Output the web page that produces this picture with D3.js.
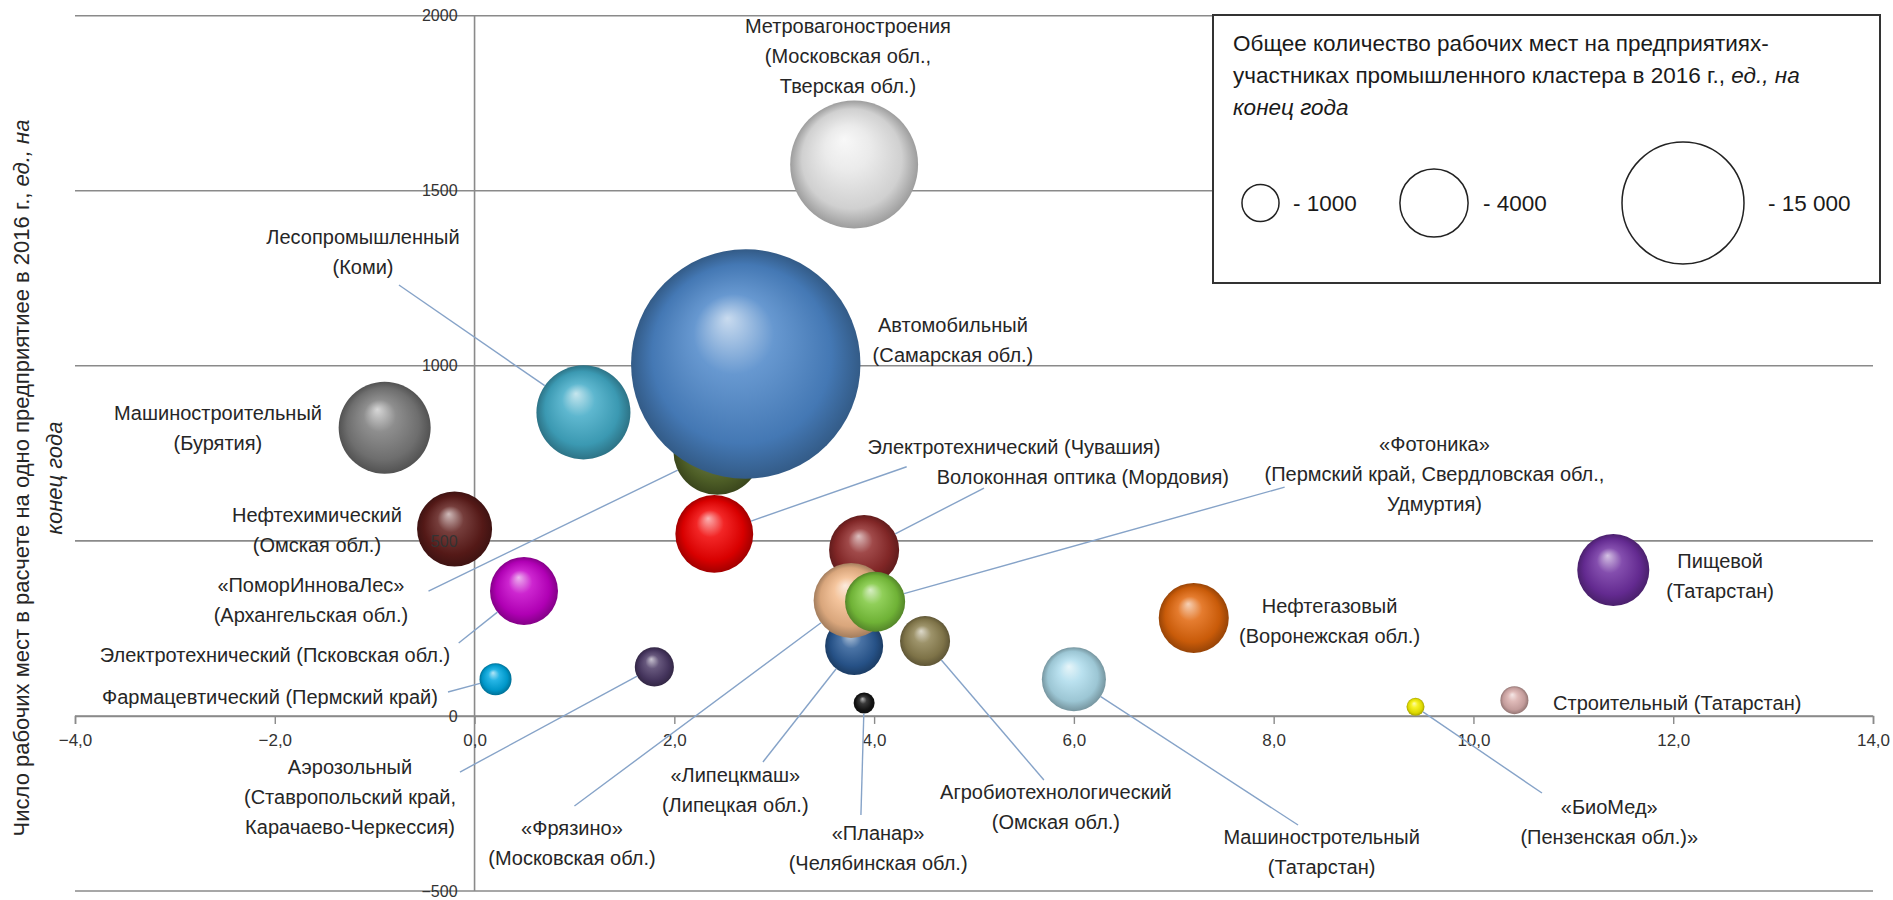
<!DOCTYPE html>
<html><head><meta charset="utf-8">
<script src="https://cdn.jsdelivr.net/npm/d3@7"></script>
<style>
html,body{margin:0;padding:0;background:#fff;}
svg{display:block;font-family:"Liberation Sans",Arial,sans-serif;}
</style></head><body>
<svg id="chart" width="1893" height="900"></svg>
<script>
// ---------- DATA ----------
const clusterLabels = [
  ["Метровагоностроения","(Московская обл.,","Тверская обл.)"],
  ["Машиностроительный","(Бурятия)"],
  ["Лесопромышленный","(Коми)"],
  ["«ПоморИнноваЛес»","(Архангельская обл.)"],
  ["Автомобильный","(Самарская обл.)"],
  ["Нефтехимический","(Омская обл.)"],
  ["Электротехнический (Чувашия)"],
  ["Волоконная оптика (Мордовия)"],
  ["«Липецкмаш»","(Липецкая обл.)"],
  ["«Фрязино»","(Московская обл.)"],
  ["«Фотоника»","(Пермский край, Свердловская обл.,","Удмуртия)"],
  ["Агробиотехнологический","(Омская обл.)"],
  ["«Планар»","(Челябинская обл.)"],
  ["Машиностротельный","(Татарстан)"],
  ["Нефтегазовый","(Воронежская обл.)"],
  ["Пищевой","(Татарстан)"],
  ["«БиоМед»","(Пензенская обл.)»"],
  ["Строительный (Татарстан)"],
  ["Электротехнический (Псковская обл.)"],
  ["Фармацевтический (Пермский край)"],
  ["Аэрозольный","(Ставропольский край,","Карачаево-Черкессия)"]
];
// X: horizontal axis value
const xValues = [3.80, -0.90, 1.09, 2.43, 2.715, -0.20, 2.40, 3.90, 3.80, 3.77, 4.01, 4.51, 3.90, 6.00, 7.20, 11.40, 9.42, 10.41, 0.495, 0.21, 1.80];
// Y: jobs per enterprise, 2016
const yValues = [1575, 823, 867, 757, 1005, 534, 520, 474, 200, 330, 326, 214, 37, 105, 280, 417, 26, 45, 357, 105, 140];
// Bubble size: total jobs in cluster enterprises, 2016
const jobsTotal = [16700, 7900, 8300, 7100, 63000, 4970, 5400, 4250, 2770, 4970, 3000, 1980, 275, 3470, 4250, 4530, 194, 530, 3970, 717, 1130];

const xTicks = [-4, -2, 0, 2, 4, 6, 8, 10, 12, 14];
const yTicks = [-500, 0, 500, 1000, 1500, 2000];
const legendSizes = [1000, 4000, 15000];
const legendSizeLabels = ["- 1000", "- 4000", "- 15 000"];

// ---------- STYLE / LAYOUT (not data) ----------
const palette = ["#e8e8e8","#7a7a7a","#42aac6","#56682a","#4c86c8","#5e1c1a","#f00000","#8f2a2a","#2a5a95","#f2b98a","#7cc63c","#8c8050","#151515","#aedcec","#e0650a","#6e2fa0","#f5f000","#d9aeac","#c400c8","#00a8e0","#4c3a66"];
// label centre (data units) and leader start (data units)
const labelLayout = [
  {x:3.738,y:1970},{x:-2.569,y:865},{x:-1.117,y:1368,lx:-0.757,ly:1230.7},
  {x:-1.638,y:374,lx:-0.461,ly:356.7},{x:4.789,y:1116},{x:-1.578,y:574},
  {x:5.40,y:769,lx:4.326,ly:711.8},{x:6.09,y:682,lx:5.10,ly:651},
  {x:2.61,y:-169,lx:2.887,ly:-131.5},{x:0.975,y:-320,lx:1.0,ly:-257.2},
  {x:9.61,y:777,lx:8.11,ly:653.6},{x:5.82,y:-217,lx:5.70,ly:-183},
  {x:4.04,y:-334,lx:3.868,ly:-283},{x:8.48,y:-345,lx:8.244,ly:-311.5},
  {x:8.56,y:314},{x:12.47,y:442},{x:11.36,y:-259,lx:10.686,ly:-220.2},
  {x:12.04,y:37},{x:-1.998,y:174,lx:-0.159,ly:208.2},{x:-2.048,y:55,lx:-0.266,ly:68.3},
  {x:-1.247,y:-146,lx:-0.146,ly:-160.2}
];

const svg = d3.select("#chart");
const x = d3.scaleLinear().domain([-4, 14]).range([75, 1873]);
const y = d3.scaleLinear().domain([-500, 2000]).range([891, 15.7]);
const r = d3.scalePow().exponent(0.44).domain([0, 15000]).range([0, 61]);

const data = xValues.map((v, i) => ({i, x: v, y: yValues[i], s: jobsTotal[i], lines: clusterLabels[i], color: palette[i], lay: labelLayout[i]}));

// gradients
const defs = svg.append("defs");
data.forEach(d => {
  const c = d3.color(d.color);
  const g = defs.append("radialGradient").attr("id", "g" + d.i)
    .attr("cx", "50%").attr("cy", "50%").attr("r", "50%").attr("fx", "42%").attr("fy", "30%");
  g.append("stop").attr("offset", "0%").attr("stop-color", d3.interpolateRgb(c, "#ffffff")(0.7));
  g.append("stop").attr("offset", "35%").attr("stop-color", d3.interpolateRgb(c, "#ffffff")(0.15));
  g.append("stop").attr("offset", "78%").attr("stop-color", c.darker(0.3).formatHex());
  g.append("stop").attr("offset", "100%").attr("stop-color", c.darker(1.1).formatHex());
});

const gridColor = "#8a8a8a";
svg.append("g").selectAll("line").data(yTicks).join("line")
  .attr("x1", x(-4)).attr("x2", x(14))
  .attr("y1", d => y(d)).attr("y2", d => y(d))
  .attr("stroke", gridColor).attr("stroke-width", 1.6);

svg.append("line").attr("x1", x(0)).attr("x2", x(0)).attr("y1", y(2000)).attr("y2", y(-500))
  .attr("stroke", gridColor).attr("stroke-width", 1.6);

const xAxis = d3.axisBottom(x).tickValues(xTicks).tickSize(8).tickPadding(10)
  .tickFormat(d => d3.format(".1f")(d).replace(".", ","));
const gx = svg.append("g").attr("transform", `translate(0,${y(0)})`).call(xAxis);
gx.select(".domain").attr("stroke", gridColor).attr("stroke-width", 1.6);
gx.selectAll(".tick line").attr("stroke", gridColor).attr("stroke-width", 1.4);
gx.selectAll("text").attr("font-size", 17).attr("fill", "#333").attr("font-family", "Liberation Sans, Arial, sans-serif");

// bubbles
svg.append("g").selectAll("circle").data(data).join("circle")
  .attr("cx", d => x(d.x)).attr("cy", d => y(d.y)).attr("r", d => r(d.s))
  .attr("fill", d => `url(#g${d.i})`);

// y axis labels
const yAxis = d3.axisLeft(y).tickValues(yTicks).tickSize(0).tickPadding(17).tickFormat(d3.format("d"));
const gy = svg.append("g").attr("transform", `translate(${x(0)},0)`).call(yAxis);
gy.select(".domain").remove();
gy.selectAll("text").attr("font-size", 16).attr("fill", "#333").attr("font-family", "Liberation Sans, Arial, sans-serif");

// leader lines
const leaders = data.filter(d => d.lay.lx !== undefined);
function edge(d) {
  const cx = x(d.x), cy = y(d.y), px = x(d.lay.lx), py = y(d.lay.ly);
  const L = Math.hypot(px - cx, py - cy), rr = r(d.s);
  return [cx + (px - cx) / L * rr, cy + (py - cy) / L * rr];
}
svg.append("g").selectAll("line").data(leaders).join("line")
  .attr("x1", d => x(d.lay.lx)).attr("y1", d => y(d.lay.ly))
  .attr("x2", d => edge(d)[0]).attr("y2", d => edge(d)[1])
  .attr("stroke", "#86a3c8").attr("stroke-width", 1.4);

// labels
const LH = 30;
const lab = svg.append("g").attr("font-size", 20).attr("fill", "#262626").attr("text-anchor", "middle");
data.forEach(d => {
  const t = lab.append("text").attr("x", x(d.lay.x)).attr("y", y(d.lay.y) + 7);
  d.lines.forEach((line, k) => {
    t.append("tspan").attr("x", x(d.lay.x)).attr("dy", k === 0 ? 0 : LH).text(line);
  });
});

// y axis title
const yt = svg.append("text").attr("transform", `translate(29,478) rotate(-90)`)
  .attr("text-anchor", "middle").attr("font-size", 22).attr("fill", "#262626");
yt.append("tspan").text("Число рабочих мест в расчете на одно предприятиее в 2016 г., ");
yt.append("tspan").attr("font-style", "italic").text("ед., на");
svg.append("text").attr("transform", `translate(62,478) rotate(-90)`)
  .attr("text-anchor", "middle").attr("font-size", 22).attr("fill", "#262626")
  .attr("font-style", "italic").text("конец года");

// legend
const lg = svg.append("g");
lg.append("rect").attr("x", 1213).attr("y", 15).attr("width", 667).attr("height", 268)
  .attr("fill", "#fff").attr("stroke", "#333").attr("stroke-width", 2);
const lt = lg.append("text").attr("font-size", 22.5).attr("fill", "#1a1a1a");
lt.append("tspan").attr("x", 1233).attr("y", 51).text("Общее количество рабочих мест на предприятиях-");
lt.append("tspan").attr("x", 1233).attr("y", 83).text("участниках промышленного кластера в 2016 г., ");
lt.append("tspan").attr("font-style", "italic").text("ед., на");
lt.append("tspan").attr("x", 1233).attr("y", 115).attr("font-style", "italic").text("конец года");
const legCx = [1260.5, 1434, 1683];
const legTx = [1293, 1483, 1768];
legendSizes.forEach((v, k) => {
  lg.append("circle").attr("cx", legCx[k]).attr("cy", 203).attr("r", r(v))
    .attr("fill", "none").attr("stroke", "#222").attr("stroke-width", 1.5);
  lg.append("text").attr("x", legTx[k]).attr("y", 211).attr("font-size", 22.5).attr("fill", "#1a1a1a").text(legendSizeLabels[k]);
});
</script>
</body></html>
